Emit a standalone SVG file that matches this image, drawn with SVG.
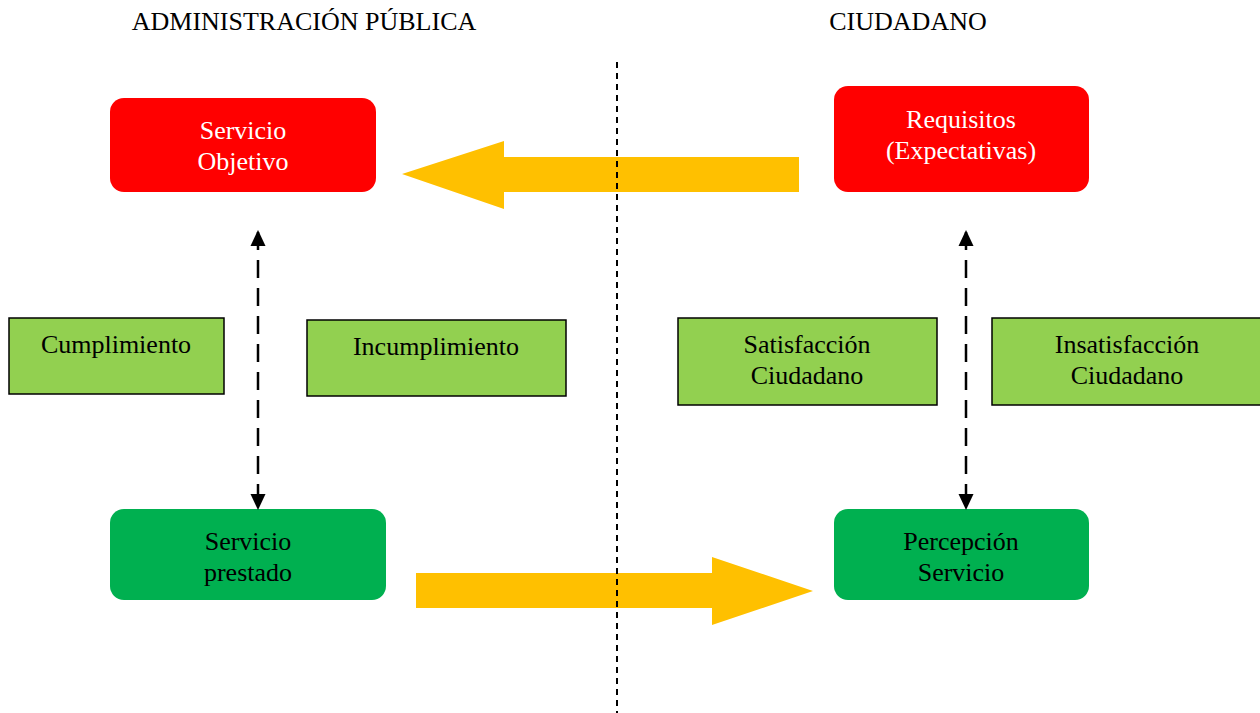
<svg xmlns="http://www.w3.org/2000/svg" width="1260" height="713" viewBox="0 0 1260 713">
<defs>
<style>
text{font-family:"Liberation Serif","Times New Roman",serif;font-size:26px;text-anchor:middle;}
.w{fill:#fff;}
.b{fill:#000;}
.red{fill:#FF0000;}
.grn{fill:#00B050;}
.lg{fill:#92D050;stroke:#000;stroke-width:1.5;}
.ya{fill:#FFC000;}
.dl{stroke:#000;stroke-width:2.5;stroke-dasharray:18 10;fill:none;}
.div{stroke:#000;stroke-width:2;stroke-dasharray:6 5;fill:none;}
</style>
<marker id="ah" markerWidth="16" markerHeight="16" refX="14" refY="8" orient="auto-start-reverse" markerUnits="userSpaceOnUse" viewBox="0 0 16 16">
<path d="M0,0.5 L16,8 L0,15.5 z" fill="#000"/>
</marker>
</defs>
<rect width="1260" height="713" fill="#fff"/>
<g id="headers">
<text x="304" y="30" class="b">ADMINISTRACIÓN PÚBLICA</text>
<text x="908" y="30" class="b">CIUDADANO</text>
</g>
<g id="servicio-objetivo">
<rect x="110" y="98" width="266" height="94" rx="14" class="red"/>
<text x="243" y="139" class="w">Servicio</text>
<text x="243" y="170" class="w">Objetivo</text>
</g>
<g id="requisitos">
<rect x="834" y="86" width="255" height="106" rx="14" class="red"/>
<text x="961" y="128" class="w">Requisitos</text>
<text x="961" y="159" class="w">(Expectativas)</text>
</g>
<g id="servicio-prestado">
<rect x="110" y="509" width="276" height="91" rx="14" class="grn"/>
<text x="248" y="550" class="b">Servicio</text>
<text x="248" y="581" class="b">prestado</text>
</g>
<g id="percepcion">
<rect x="834" y="509" width="255" height="91" rx="14" class="grn"/>
<text x="961" y="550" class="b">Percepción</text>
<text x="961" y="581" class="b">Servicio</text>
</g>
<g id="cumplimiento">
<rect x="9" y="318" width="215" height="76" class="lg"/>
<text x="116" y="353" class="b">Cumplimiento</text>
</g>
<g id="incumplimiento">
<rect x="307" y="320" width="259" height="76" class="lg"/>
<text x="436" y="355" class="b">Incumplimiento</text>
</g>
<g id="satisfaccion">
<rect x="678" y="318" width="259" height="87" class="lg"/>
<text x="807" y="353" class="b">Satisfacción</text>
<text x="807" y="384" class="b">Ciudadano</text>
</g>
<g id="insatisfaccion">
<rect x="992" y="318" width="270" height="87" class="lg"/>
<text x="1127" y="353" class="b">Insatisfacción</text>
<text x="1127" y="384" class="b">Ciudadano</text>
</g>
<g id="connectors">
<polygon class="ya" points="799,157 504,157 504,141 402,174 504,209 504,192 799,192"/>
<polygon class="ya" points="416,573 712,573 712,557 813,591 712,625 712,608 416,608"/>
<line x1="617" y1="62" x2="617" y2="713" class="div"/>
<line x1="258" y1="232" x2="258" y2="508" class="dl" marker-start="url(#ah)" marker-end="url(#ah)"/>
<line x1="966" y1="232" x2="966" y2="508" class="dl" marker-start="url(#ah)" marker-end="url(#ah)"/>
</g>
</svg>
